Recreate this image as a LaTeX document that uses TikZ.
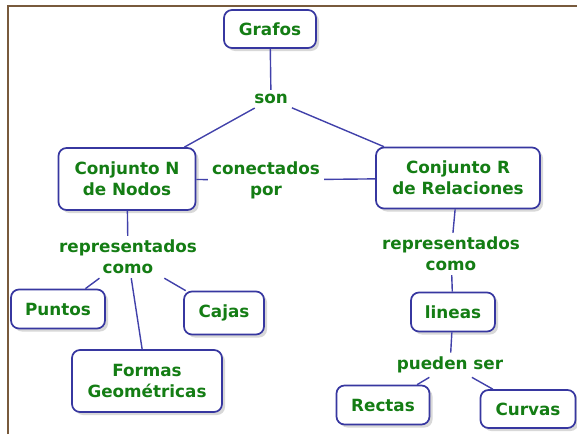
\documentclass[tikz,border=0pt]{standalone}
\usepackage{fontspec}
\setmainfont{DejaVu Sans}
\usetikzlibrary{shadows}
\definecolor{txtgreen}{RGB}{20,125,20}
\definecolor{boxblue}{RGB}{55,55,160}
\definecolor{lineblue}{RGB}{65,65,170}
\definecolor{framebrown}{RGB}{120,90,60}
\tikzset{
  concept/.style={draw=boxblue, line width=1.7pt, rounded corners=8pt, fill=white,
    align=center, text=txtgreen, font=\fontsize{16.8}{21}\selectfont\bfseries,
    drop shadow={shadow xshift=3pt, shadow yshift=-3pt, fill=black!25, opacity=0.6},
    inner sep=0pt},
  linkword/.style={align=center, text=txtgreen, font=\fontsize{16.8}{21}\selectfont\bfseries, inner sep=4pt},
  conn/.style={draw=lineblue, line width=1.4pt}
}
\begin{document}
\begin{tikzpicture}[x=1pt,y=-1pt]
\useasboundingbox (0,0) rectangle (577,434);
\fill[white] (0,0) rectangle (577,434);
\draw[framebrown, line width=2pt] (8,434) -- (8,6) -- (577,6);

\node[concept, minimum width=92pt, minimum height=38pt] (grafos) at (270,29) {Grafos};
\node[linkword] (son) at (271,99) {son};
\node[concept, minimum width=137pt, minimum height=62pt] (N) at (127,179) {Conjunto N\\de Nodos};
\node[linkword] (con) at (266,180) {conectados\\por};
\node[concept, minimum width=164pt, minimum height=61pt] (R) at (458,178) {Conjunto R\\de Relaciones};
\node[linkword] (repL) at (128,257) {representados\\como};
\node[concept, minimum width=94pt, minimum height=39pt] (puntos) at (58,309) {Puntos};
\node[concept, minimum width=80pt, minimum height=43pt] (cajas) at (224,313) {Cajas};
\node[concept, minimum width=150pt, minimum height=62pt] (formas) at (147,381) {Formas\\Geométricas};
\node[linkword] (repR) at (451,254) {representados\\como};
\node[concept, minimum width=84pt, minimum height=39pt] (lineas) at (453,312) {lineas};
\node[linkword] (pueden) at (450,365) {pueden ser};
\node[concept, minimum width=93pt, minimum height=39pt] (rectas) at (383,405) {Rectas};
\node[concept, minimum width=95pt, minimum height=38pt] (curvas) at (528,409) {Curvas};

\draw[conn] (grafos) -- (son);
\draw[conn] (son) -- (N);
\draw[conn] (son) -- (R);
\draw[conn] (N) -- (con);
\draw[conn] (con) -- (R);
\draw[conn] (N) -- (repL);
\draw[conn] (repL) -- (puntos);
\draw[conn] (repL) -- (cajas);
\draw[conn] (repL) -- (formas);
\draw[conn] (R) -- (repR);
\draw[conn] (repR) -- (lineas);
\draw[conn] (lineas) -- (pueden);
\draw[conn] (pueden) -- (rectas);
\draw[conn] (pueden) -- (curvas);
\end{tikzpicture}
\end{document}
